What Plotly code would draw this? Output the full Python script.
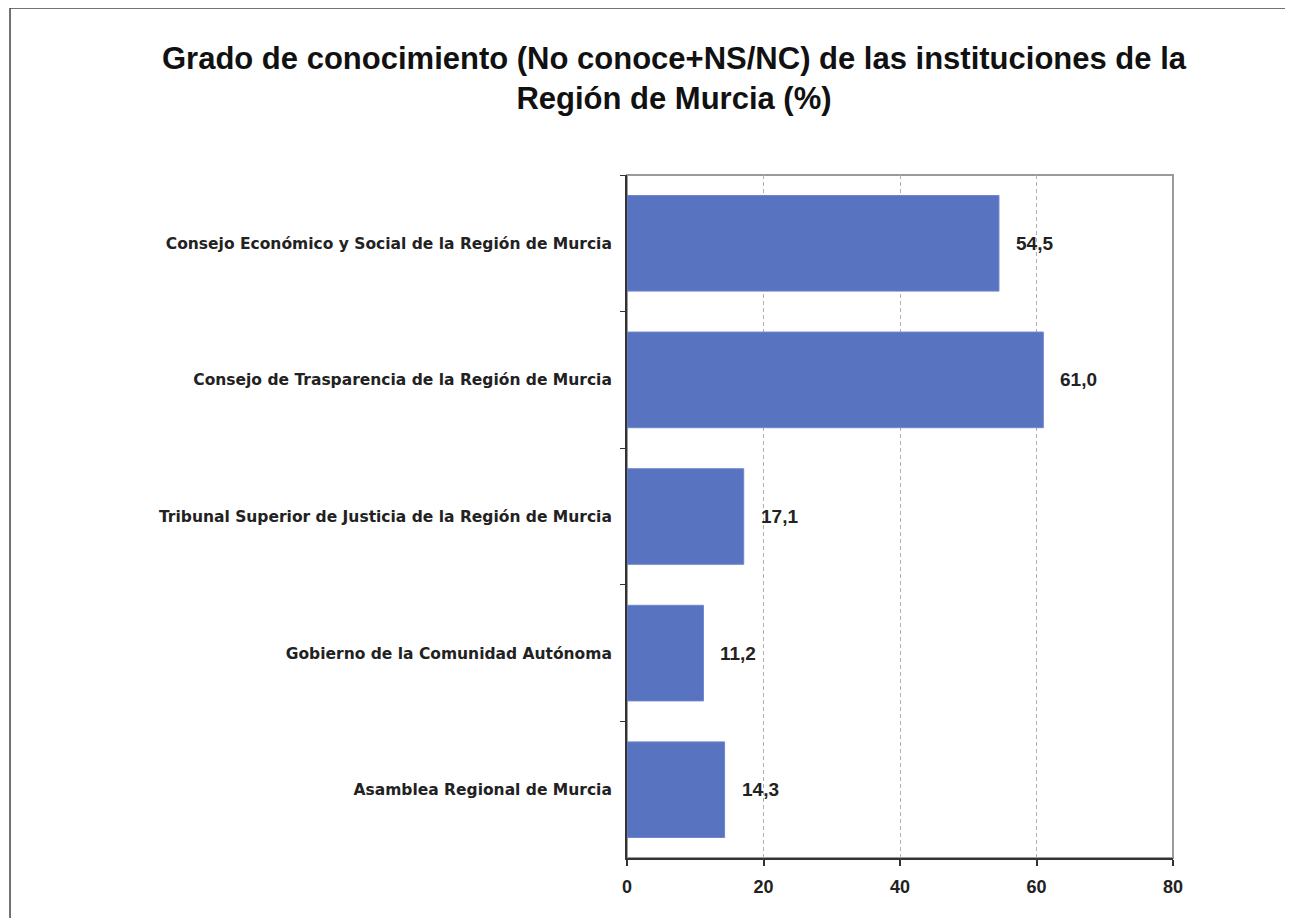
import plotly.graph_objects as go

categories = [
    "Consejo Económico y Social de la Región de Murcia",
    "Consejo de Trasparencia de la Región de Murcia",
    "Tribunal Superior de Justicia de la Región de Murcia",
    "Gobierno de la Comunidad Autónoma",
    "Asamblea Regional de Murcia",
]
values = [54.5, 61.0, 17.1, 11.2, 14.3]
x_ticks = [0, 20, 40, 60, 80]
title_text = "Grado de conocimiento (No conoce+NS/NC) de las instituciones de la<br>Región de Murcia (%)"

FONT = "Arial, Liberation Sans, sans-serif"
LABEL_FONT = "DejaVu Sans, Arial, sans-serif"

fig = go.Figure()
fig.add_trace(go.Bar(
    x=values, y=categories, orientation="h",
    marker=dict(color="#5873C0", line=dict(color="#6f86cc", width=1)),
    width=0.7, hoverinfo="skip",
))

for v, c in zip(values, categories):
    fig.add_annotation(
        x=v, y=c, xref="x", yref="y", text=f"<b>{v:.1f}</b>".replace(".", ","),
        showarrow=False, xanchor="left", xshift=15,
        font=dict(family=FONT, size=19, color="#222"),
    )

# frame of plot area (top/right gray)
fig.add_shape(type="rect", xref="paper", yref="paper", x0=0, x1=1, y0=0, y1=1,
              line=dict(color="#9a9a9a", width=2), layer="below")
# page frame (top and left edges)
fig.add_shape(type="line", xref="paper", yref="paper", x0=-1.13, x1=1.3, y0=1.2445, y1=1.2445,
              line=dict(color="#444", width=1.5))
fig.add_shape(type="line", xref="paper", yref="paper", x0=-1.13, x1=-1.13, y0=-0.1, y1=1.2445,
              line=dict(color="#444", width=1.5))

fig.update_layout(
    width=1293, height=918,
    margin=dict(l=619, r=128, t=167, b=68),
    paper_bgcolor="white", plot_bgcolor="white",
    separators=",.",
    showlegend=False,
    title=dict(text=f"<b>{title_text}</b>", x=666/1293, xanchor="center", xref="container",
               y=0.934, yanchor="top", yref="container",
               font=dict(family=FONT, size=31, color="#111")),
    xaxis=dict(range=[0, 80], tickvals=x_ticks, showgrid=True,
               gridcolor="#b0b0b0", griddash="4px,3px", gridwidth=1,
               showline=True, linecolor="#333", linewidth=2,
               ticks="outside", ticklen=6, tickcolor="#333", tickwidth=1.5,
               tickfont=dict(family=FONT, size=18, color="#222", weight="bold"),
               ticklabelstandoff=5, zeroline=False),
    yaxis=dict(autorange="reversed", showline=True, linecolor="#333", linewidth=2,
               ticks="outside", ticklen=5, tickcolor="#333", tickson="boundaries",
               tickfont=dict(family=LABEL_FONT, size=15.5, color="#222", weight="bold"),
               ticklabelstandoff=10, showgrid=False),
    bargap=0.3,
)

fig.write_html("out.html")
